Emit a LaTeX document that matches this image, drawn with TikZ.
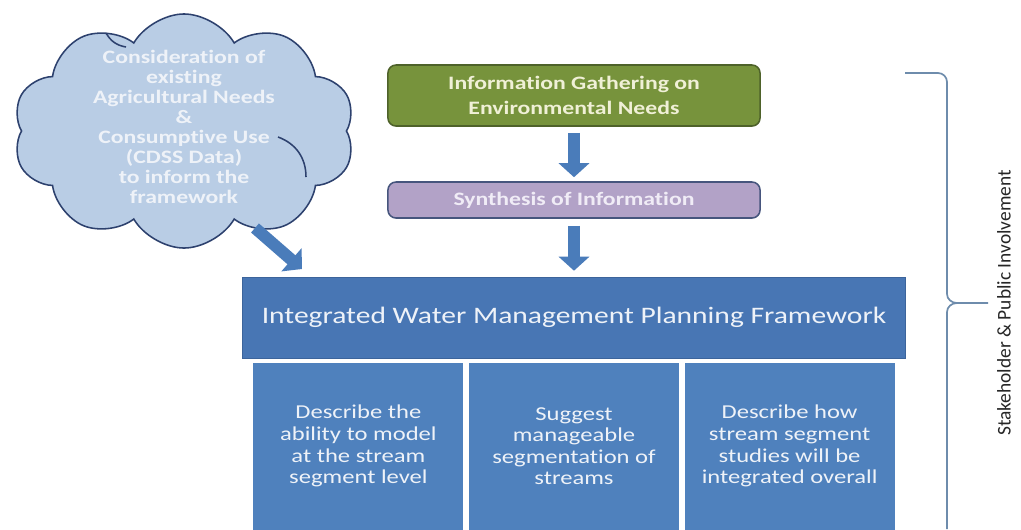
\documentclass[tikz,border=0pt]{standalone}
\usepackage{fontspec}
\setmainfont{Carlito}[FakeStretch=1.25,Ligatures=NoCommon]
\newfontfamily\sidefont{Carlito}[Ligatures=NoCommon]
\usetikzlibrary{positioning}
\usetikzlibrary{shapes,arrows.meta}

\definecolor{cloudblue}{RGB}{185,205,229}
\definecolor{clouddraw}{RGB}{45,65,110}
\definecolor{envgreen}{RGB}{119,147,60}
\definecolor{envgreendraw}{RGB}{78,98,42}
\definecolor{greentext}{RGB}{240,240,215}
\definecolor{synlilac}{RGB}{178,162,199}
\definecolor{syndraw}{RGB}{70,85,125}
\definecolor{lilactext}{RGB}{240,236,246}
\definecolor{frameblue}{RGB}{72,118,180}
\definecolor{framedraw}{RGB}{60,100,155}
\definecolor{taskblue}{RGB}{79,129,189}
\definecolor{arrowblue}{RGB}{74,124,186}
\definecolor{textwhite}{RGB}{238,242,248}
\definecolor{bracegray}{RGB}{110,140,172}

\begin{document}
\begin{tikzpicture}[x=0.025cm,y=-0.025cm,node distance=0.1cm,
	puff/.style={cloud,cloud puffs=10,cloud puff arc=120,aspect=1.45,draw=clouddraw,line width=1.1pt,fill=cloudblue,minimum width=8.55cm,minimum height=5.85cm},
	stagebox/.style={draw,line width=1.1pt,rounded corners=0.2cm,minimum width=9.3cm,align=center,font=\bfseries\fontsize{13.5pt}{17.5pt}\selectfont},
	taskbox/.style={fill=taskblue,minimum width=5.25cm,minimum height=4.175cm,align=center,text=textwhite,font=\fontsize{14pt}{15.3pt}\selectfont},
	fatarrow/.style={arrowblue,line width=0.3cm,-{Triangle[length=0.35cm,width=0.75cm]}}]
	\useasboundingbox[fill=white] (0,0) rectangle (1021,529);
	
	\node[puff] (cloud) at (184,131) {};
	% inner puff lines of the cloud
	\draw[clouddraw,line width=1.1pt] (106,33) to[bend right=25] (126,47);
	\draw[clouddraw,line width=1.1pt] (278,137) to[bend left=35] (306,177);
	\node[text=textwhite,align=center,font=\bfseries\fontsize{13.5pt}{14.2pt}\selectfont] (cloudtxt) at (184,127) {Consideration of\\existing\\Agricultural Needs\\\&\\Consumptive Use\\(CDSS Data)\\to inform the\\framework};
	
	\node[stagebox,draw=envgreendraw,fill=envgreen,minimum height=1.525cm,text=greentext] (envneeds) at (574,95.5) {Information Gathering on\\Environmental Needs};
	\node[stagebox,draw=syndraw,fill=synlilac,minimum height=0.9cm,text=lilactext] (synth) at (574,200) {Synthesis of Information};
	\node[fill=frameblue,draw=framedraw,minimum width=16.575cm,minimum height=2.025cm,text=textwhite,font=\fontsize{16.8pt}{18pt}\selectfont] (iwmp) at (574,317.5) {Integrated Water Management Planning Framework};
	
	\node[taskbox,below=of iwmp] (segments) {Suggest\\manageable\\segmentation of\\streams};
	\node[taskbox,left=0.125cm of segments] (modelling) {Describe the\\ability to model\\at the stream\\segment level};
	\node[taskbox,right=0.125cm of segments] (integration) {Describe how\\stream segment\\studies will be\\integrated overall};
	
	\coordinate (cloudfoot) at (255,228);
	\coordinate (framecorner) at (302,269);
	\draw[fatarrow,shorten <=0.15cm,shorten >=0.1cm] (envneeds) -- (synth);
	\draw[fatarrow,shorten <=0.175cm,shorten >=0.15cm] (synth) -- (iwmp);
	\draw[fatarrow] (cloudfoot) -- (framecorner);
	
	% brace for the involvement label
	\draw[bracegray,line width=1.2pt] (905,73) -- (938,73) to[out=0,in=90] (947,82) -- (947,294) to[out=-90,in=180] (957,303) -- (988,303);
	\draw[bracegray,line width=1.2pt] (957,303) to[out=180,in=90] (947,312) -- (947,529);
	\node[rotate=90,text=black!85,font=\sidefont\fontsize{13.8pt}{16pt}\selectfont] (stake) at (1004,303) {Stakeholder \& Public Involvement};
\end{tikzpicture}
\end{document}
